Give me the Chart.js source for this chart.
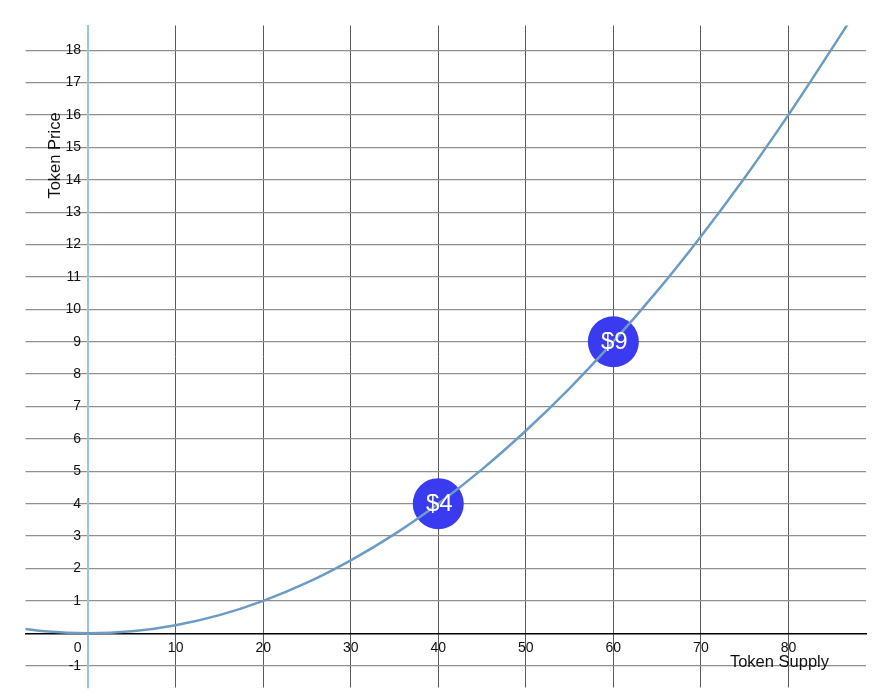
<!DOCTYPE html>
<html>
<head>
<meta charset="utf-8">
<script src="https://cdn.jsdelivr.net/npm/chart.js@4"></script>
<style>
  html, body { margin: 0; padding: 0; background: #fff; }
  #wrap { width: 894px; height: 698px; overflow: hidden; }
</style>
</head>
<body>
<div id="wrap"><canvas id="curveChart" width="894" height="713"></canvas></div>
<script>
// Bonding curve readings (token supply -> token price)
const supply = [-7.2, -5, 0, 5, 10, 15, 20, 25, 30, 35, 40, 45, 50, 55, 60, 65, 70, 75, 80, 85, 87];
const price = [0.13, 0.06, 0, 0.06, 0.25, 0.56, 1, 1.56, 2.25, 3.06, 4, 5.06, 6.25, 7.56, 9, 10.56, 12.25, 14.06, 16, 18.06, 18.9];

// Highlighted points
const markerSupply = [40, 60];
const markerPrice = [4, 9];
const markerLabels = ['$4', '$9'];

const xTitle = 'Token Supply';
const yTitle = 'Token Price';

const curveData = supply.map((s, i) => ({ x: s, y: price[i] }));
const markerData = markerSupply.map((s, i) => ({ x: s, y: markerPrice[i] }));

const fontFamily = '"Liberation Sans", Arial, Helvetica, sans-serif';

// draws the $ labels inside the circles and the two axis titles
const labelPlugin = {
  id: 'labelPlugin',
  afterDatasetsDraw(chart) {
    const ctx = chart.ctx;
    const meta = chart.getDatasetMeta(1);
    ctx.save();
    ctx.fillStyle = '#ffffff';
    ctx.font = '24px ' + fontFamily;
    ctx.textAlign = 'center';
    ctx.textBaseline = 'middle';
    meta.data.forEach((pt, i) => {
      ctx.fillText(markerLabels[i], pt.x + 1, pt.y + 1);
    });
    ctx.restore();
  },
  afterDraw(chart) {
    const ctx = chart.ctx;
    const area = chart.chartArea;
    ctx.save();
    ctx.fillStyle = '#111';
    ctx.font = '16.5px ' + fontFamily;
    ctx.textBaseline = 'middle';
    ctx.textAlign = 'right';
    ctx.fillText(xTitle, area.right - 37, chart.scales.y.getPixelForValue(0) + 29);
    ctx.translate(area.left + 30, area.top + 130);
    ctx.rotate(-Math.PI / 2);
    ctx.textAlign = 'center';
    ctx.fillText(yTitle, 0, 0);
    ctx.restore();
  }
};

const ctx = document.getElementById('curveChart').getContext('2d');
const curveChart = new Chart(ctx, {
  type: 'scatter',
  data: {
    datasets: [
      {
        data: curveData,
        showLine: true,
        borderColor: 'rgb(108,155,195)',
        borderWidth: 2.5,
        pointRadius: 0,
        cubicInterpolationMode: 'monotone',
        fill: false
      },
      {
        data: markerData,
        pointRadius: 25.5,
        pointHoverRadius: 25.5,
        backgroundColor: 'rgb(58,58,240)',
        borderColor: 'rgb(58,58,240)',
        borderWidth: 0
      }
    ]
  },
  options: {
    responsive: false,
    animation: false,
    events: [],
    layout: { padding: { left: 24, right: 28, top: 24, bottom: 0 } },
    plugins: {
      legend: { display: false },
      tooltip: { enabled: false }
    },
    scales: {
      x: {
        type: 'linear',
        position: { y: 0 },
        min: -7.15,
        max: 88.86,
        ticks: {
          stepSize: 10,
          includeBounds: false,
          maxRotation: 0,
          autoSkip: false,
          padding: 6,
          color: '#111',
          font: { family: fontFamily, size: 14 },
          callback: v => (v === 0 ? '0\u2003\u2002' : String(v))
        },
        grid: {
          drawTicks: false,
          color: c => (c.tick && c.tick.value === 0 ? 'rgba(0,0,0,0)' : '#5a5a5a'),
          lineWidth: 1
        },
        border: { display: true, color: '#000', width: 1.5 }
      },
      y: {
        type: 'linear',
        position: { x: 0 },
        min: -1.674,
        max: 18.76,
        ticks: {
          stepSize: 1,
          includeBounds: false,
          autoSkip: false,
          padding: 5,
          color: '#111',
          font: { family: fontFamily, size: 14 },
          callback: v => (v === 0 ? '' : String(v) + '\u2002')
        },
        grid: {
          drawTicks: false,
          color: c => (c.tick && c.tick.value === 0 ? 'rgba(0,0,0,0)' : '#909090'),
          lineWidth: 1.2
        },
        border: { display: true, color: 'rgb(150,200,220)', width: 2 }
      }
    }
  },
  plugins: [labelPlugin]
});
</script>
</body>
</html>
